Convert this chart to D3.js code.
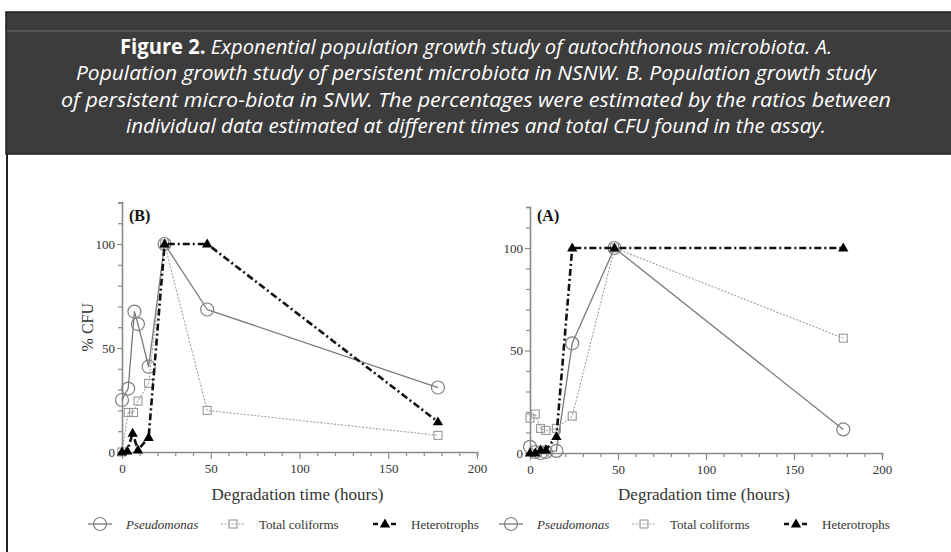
<!DOCTYPE html>
<html><head><meta charset="utf-8">
<script src="https://cdn.jsdelivr.net/npm/d3@7/dist/d3.min.js"></script>
<style>body{margin:0;background:#fff;}svg{display:block}</style>
</head><body><svg id="c" width="951" height="552"></svg>
<script>
// ---- caption ----
const captionBold = "Figure 2.";
const captionLines = [
  " Exponential population growth study of autochthonous microbiota. A.",
  "Population growth study of persistent microbiota in NSNW. B. Population growth study",
  "of persistent micro-biota in SNW. The percentages were estimated by the ratios between",
  "individual data estimated at different times and total CFU found in the assay."
];
// ---- labels ----
const panelLabels = ["(B)", "(A)"];
const xTitle = "Degradation time (hours)";
const yTitle = "% CFU";
const seriesNames = ["Pseudomonas", "Total coliforms", "Heterotrophs"];
const xTicks = [0, 50, 100, 150, 200];
const yTicks = [0, 50, 100];

// ---- panel B (left) data ----
const bPseudoT  = [0, 3.5, 7, 9, 15, 24, 48, 178];
const bPseudoV  = [25, 30.5, 67.5, 61.5, 41, 100, 68.5, 31];
const bColiT    = [0, 3.5, 6.5, 9, 15, 24, 48, 178];
const bColiV    = [0, 19, 19, 24.5, 33, 100, 20, 8];
const bHeteroT  = [0, 3, 6, 9, 15, 24, 48, 178];
const bHeteroV  = [0, 0.5, 9, 1, 7, 100, 100, 14.5];

// ---- panel A (right) data ----
const aTimes    = [0, 3, 6, 9, 15, 24, 48, 178];
const aPseudoV  = [3, 0.5, 0, 0.5, 1, 53.5, 100, 11.5];
const aColiV    = [17, 19, 12, 11, 12, 18, 100, 56];
const aHeteroV  = [0, 0, 1.5, 1.5, 8, 100, 100, 100];

const svg = d3.select("#c");
const serif = "'Liberation Serif','Times New Roman',serif";

// ---- header box ----
svg.append("rect").attr("x", 6).attr("y", 12).attr("width", 960).attr("height", 142)
  .attr("fill", "#3c3c3c").attr("stroke", "#1e1e1e").attr("stroke-width", 1.5);
svg.append("line").attr("x1", 7).attr("x2", 951).attr("y1", 31).attr("y2", 31)
  .attr("stroke", "#5e5e5e").attr("stroke-width", 1.5);
svg.append("line").attr("x1", 7).attr("x2", 7).attr("y1", 154).attr("y2", 552)
  .attr("stroke", "#222").attr("stroke-width", 2);

const lineBase = [54, 80, 107, 133];
const lineWidths = [712, 800, 830, 700];
captionLines.forEach((t, i) => {
  const tx = svg.append("text")
    .attr("x", 476).attr("y", lineBase[i]).attr("text-anchor", "middle")
    .attr("fill", "#ffffff").attr("font-family", "'Open Sans','Noto Sans',sans-serif")
    .attr("font-size", 20.5)
    .attr("textLength", lineWidths[i]).attr("lengthAdjust", "spacingAndGlyphs");
  if (i === 0) tx.append("tspan").attr("font-weight", "bold").text(captionBold);
  tx.append("tspan").attr("font-style", "italic").text(t);
});

// ---- panels ----
const panels = [
  { label: panelLabels[0], x0: 122, x1: 477, y0: 452, y100: 244, yTitle: true, legendX: 100,
    series: [
      { t: bPseudoT, v: bPseudoV }, { t: bColiT, v: bColiV }, { t: bHeteroT, v: bHeteroV }
    ] },
  { label: panelLabels[1], x0: 530, x1: 882, y0: 453, y100: 248, yTitle: false, legendX: 511,
    series: [
      { t: aTimes, v: aPseudoV }, { t: aTimes, v: aColiV }, { t: aTimes, v: aHeteroV }
    ] }
];

const styles = [
  { stroke: "#7a7a7a", width: 1.3, dash: null, marker: "circle" },
  { stroke: "#a0a0a0", width: 1.1, dash: "2,1.5", marker: "square" },
  { stroke: "#111", width: 2.6, dash: "7,3,2,3", marker: "triangle" }
];

function drawMarker(g, type, cx, cy) {
  if (type === "circle") {
    g.append("circle").attr("cx", cx).attr("cy", cy).attr("r", 6.5)
      .attr("fill", "none").attr("stroke", "#808080").attr("stroke-width", 1.2);
  } else if (type === "square") {
    g.append("rect").attr("x", cx - 4).attr("y", cy - 4).attr("width", 8).attr("height", 8)
      .attr("fill", "none").attr("stroke", "#999").attr("stroke-width", 1.1);
  } else {
    g.append("path").attr("d", d3.symbol().type(d3.symbolTriangle).size(46)())
      .attr("transform", `translate(${cx},${cy + 0.5})`).attr("fill", "#000");
  }
}

panels.forEach(p => {
  const yTop = p.y0 - (p.y0 - p.y100) * 1.2;
  const x = d3.scaleLinear().domain([0, 200]).range([p.x0, p.x1]);
  const y = d3.scaleLinear().domain([0, 120]).range([p.y0, yTop]);
  const g = svg.append("g");

  // x axis
  const xa = g.append("g").attr("transform", `translate(0,${p.y0})`)
    .call(d3.axisBottom(x).tickValues(d3.range(0, 201, 10))
      .tickFormat(d => xTicks.includes(d) ? d : "").tickSize(4).tickPadding(8));
  xa.select(".domain").attr("stroke", "#8a8a8a").attr("stroke-width", 1.6);
  xa.selectAll(".tick line").attr("stroke", "#8a8a8a").attr("stroke-width", 1.2)
    .attr("y2", d => xTicks.includes(d) ? 7 : 4);
  xa.selectAll(".tick text").attr("font-family", serif).attr("font-size", 13).attr("fill", "#333");

  // y axis
  const ya = g.append("g").attr("transform", `translate(${p.x0},0)`)
    .call(d3.axisLeft(y).tickValues(d3.range(0, 121, 10))
      .tickFormat(d => yTicks.includes(d) ? d : "").tickSize(4).tickPadding(3));
  ya.select(".domain").attr("stroke", "#8a8a8a").attr("stroke-width", 1.6);
  ya.selectAll(".tick line").attr("stroke", "#8a8a8a").attr("stroke-width", 1.2)
    .attr("x2", d => yTicks.includes(d) ? -5 : -4);
  ya.selectAll(".tick text").attr("font-family", serif).attr("font-size", 13).attr("fill", "#333");

  // titles
  g.append("text").attr("x", (p.x0 + p.x1) / 2 - 2).attr("y", 500).attr("text-anchor", "middle")
    .attr("font-family", serif).attr("font-size", 17).attr("fill", "#333").text(xTitle);
  if (p.yTitle) {
    g.append("text").attr("transform", `translate(93,${(p.y0 + yTop) / 2}) rotate(-90)`)
      .attr("text-anchor", "middle").attr("font-family", serif).attr("font-size", 16)
      .attr("fill", "#333").text(yTitle);
  }
  g.append("text").attr("x", p.x0 + 7).attr("y", 221).attr("font-family", serif)
    .attr("font-weight", "bold").attr("font-size", 16).attr("fill", "#111").text(p.label);

  // series
  p.series.forEach((s, i) => {
    const st = styles[i];
    const pts = s.t.map((t, j) => [x(t), y(s.v[j])]);
    g.append("path").attr("d", d3.line()(pts)).attr("fill", "none")
      .attr("stroke", st.stroke).attr("stroke-width", st.width)
      .attr("stroke-dasharray", st.dash).attr("stroke-linejoin", "round");
    pts.forEach(q => drawMarker(g, st.marker, q[0], q[1]));
  });

  // legend
  const offs = [0, 133, 285];
  const ly = 524;
  seriesNames.forEach((n, i) => {
    const st = styles[i];
    const cx = p.legendX + offs[i];
    g.append("line").attr("x1", cx - 12).attr("x2", cx + 12).attr("y1", ly).attr("y2", ly)
      .attr("stroke", st.stroke).attr("stroke-width", st.width).attr("stroke-dasharray", i === 2 ? "5,4" : st.dash);
    drawMarker(g, st.marker, cx, ly);
    g.append("text").attr("x", cx + 26).attr("y", ly + 4.5).attr("font-family", serif)
      .attr("font-size", 13).attr("fill", "#333").attr("font-style", i === 0 ? "italic" : "normal")
      .text(n);
  });
});
</script></body></html>
